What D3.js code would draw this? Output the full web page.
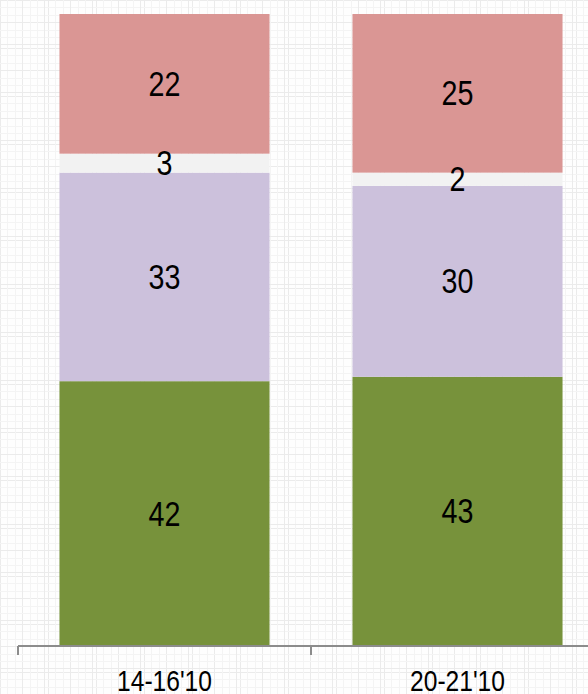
<!DOCTYPE html>
<html>
<head>
<meta charset="utf-8">
<script src="https://cdn.jsdelivr.net/npm/d3@7"></script>
<style>
  html, body { margin: 0; padding: 0; background: #fff; }
  svg { display: block; }
</style>
</head>
<body>
<div id="chart"></div>
<script>
// categories and stacked series (percent), bottom to top
const categories = ["14-16'10", "20-21'10"];
const seriesNames = ["green", "lavender", "white", "pink"];
const greenValues = [41.9, 42.6];
const lavenderValues = [33.0, 30.2];
const whiteValues = [3.0, 2.1];
const pinkValues = [22.1, 25.1];
const segmentLabels = [
  ["42", "43"],
  ["33", "30"],
  ["3", "2"],
  ["22", "25"]
];
const colors = ["#77923b", "#ccc1dc", "#f2f2f2", "#da9694"];

const W = 588, H = 694;
const margin = {top: 14, right: -16, bottom: 48, left: 18};
const width = W - margin.left - margin.right;
const height = H - margin.top - margin.bottom;

const rows = categories.map((c, i) => ({
  cat: c, green: greenValues[i], lavender: lavenderValues[i],
  white: whiteValues[i], pink: pinkValues[i]
}));

const svg = d3.select("#chart").append("svg")
  .attr("width", W).attr("height", H);

// faint paper grid background
const defs = svg.append("defs");
const pat = defs.append("pattern")
  .attr("id", "paper").attr("patternUnits", "userSpaceOnUse")
  .attr("width", 48).attr("height", 48);
pat.append("rect").attr("width", 48).attr("height", 48).attr("fill", "#fefefe");
[0, 7, 15, 22, 30, 37, 44].forEach((p, i) => {
  const c = i % 3 === 0 ? "#ebebeb" : "#f4f4f4";
  pat.append("line").attr("x1", p + 0.5).attr("x2", p + 0.5).attr("y1", 0).attr("y2", 48)
    .attr("stroke", c).attr("stroke-width", 1);
  pat.append("line").attr("y1", p + 0.5).attr("y2", p + 0.5).attr("x1", 0).attr("x2", 48)
    .attr("stroke", c).attr("stroke-width", 1);
});
svg.append("rect").attr("width", W).attr("height", H).attr("fill", "url(#paper)");

const g = svg.append("g")
  .attr("transform", "translate(" + margin.left + "," + margin.top + ")");

const x = d3.scaleBand().domain(categories).range([0, width]).padding(0);
const y = d3.scaleLinear().domain([0, 100]).range([height, 0]);
const barW = x.bandwidth() * 0.717;

const stack = d3.stack().keys(seriesNames);
const stacked = stack(rows);

const layer = g.selectAll(".layer")
  .data(stacked)
  .join("g")
  .attr("class", "layer")
  .attr("fill", (d, i) => colors[i]);

layer.selectAll("rect")
  .data(d => d)
  .join("rect")
  .attr("x", d => x(d.data.cat) + (x.bandwidth() - barW) / 2)
  .attr("width", barW)
  .attr("y", d => y(d[1]))
  .attr("height", d => y(d[0]) - y(d[1]));

// no narrow font installed, so squeeze Liberation Sans horizontally
const font = "'Liberation Sans', Arial, sans-serif";
const squeeze = 0.82;

stacked.forEach((s, si) => {
  g.selectAll(".lbl" + si)
    .data(s)
    .join("g")
    .attr("transform", d => "translate(" + (x(d.data.cat) + x.bandwidth() / 2) + ","
      + ((y(d[0]) + y(d[1])) / 2) + ") scale(" + squeeze + ",1)")
    .append("text")
    .attr("text-anchor", "middle")
    .attr("dominant-baseline", "central")
    .attr("font-family", font)
    .attr("font-size", 35)
    .attr("fill", "#000")
    .text((d, i) => segmentLabels[si][i]);
});

// category axis with ticks at band boundaries
const axisG = g.append("g").attr("transform", "translate(0," + height + ")");
axisG.append("line")
  .attr("x1", 0).attr("x2", width)
  .attr("stroke", "#8c8c8c").attr("stroke-width", 2);
const bounds = categories.map(c => x(c)).concat([x.range()[1]]);
axisG.selectAll(".tick")
  .data(bounds)
  .join("line")
  .attr("x1", d => d).attr("x2", d => d)
  .attr("y1", 0).attr("y2", 9)
  .attr("stroke", "#8c8c8c").attr("stroke-width", 2);
axisG.selectAll(".catLbl")
  .data(categories)
  .join("g")
  .attr("transform", d => "translate(" + (x(d) + x.bandwidth() / 2) + ",45) scale(" + squeeze + ",1)")
  .append("text")
  .attr("text-anchor", "middle")
  .attr("font-family", font)
  .attr("font-size", 30)
  .attr("fill", "#000")
  .text(d => d);
</script>
</body>
</html>
